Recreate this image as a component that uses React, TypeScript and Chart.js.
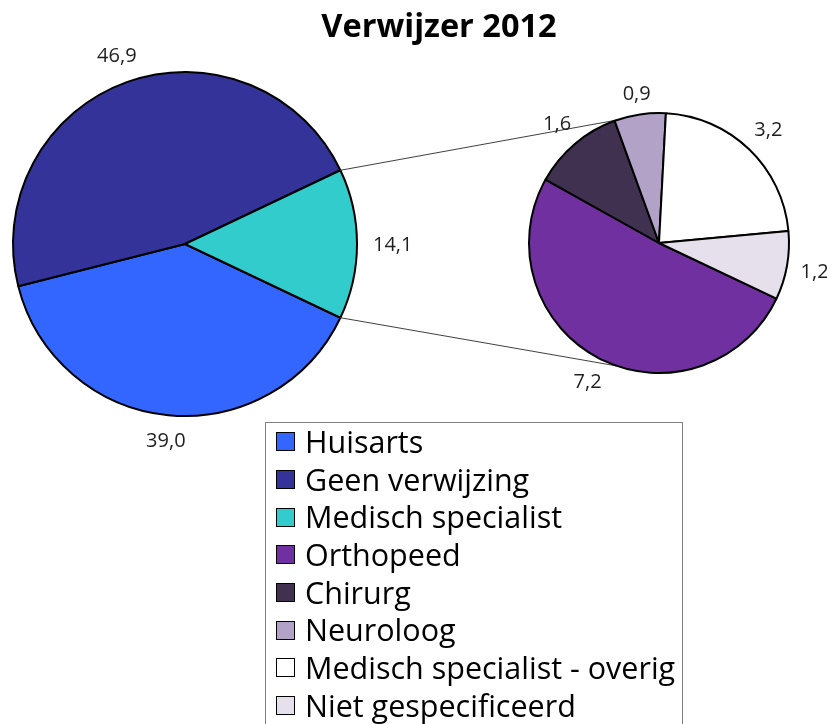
import React, { useEffect, useRef } from "react";
import { Chart, registerables } from "chart.js";

Chart.register(...registerables);

const TITLE = "Verwijzer 2012";

const mainLabels = ["Huisarts", "Geen verwijzing", "Medisch specialist"];
const mainValues = [39.0, 46.9, 14.1];
const mainColors = ["#3366FF", "#333399", "#33CCCC"];

const subLabels = [
  "Orthopeed",
  "Chirurg",
  "Neuroloog",
  "Medisch specialist - overig",
  "Niet gespecificeerd",
];
const subValues = [7.2, 1.6, 0.9, 3.2, 1.2];
const subColors = ["#7030A0", "#403151", "#B3A2C7", "#FFFFFF", "#E6E0EC"];

const SPLIT_INDEX = 2; // main slice broken out into the second pie

const W = 827;
const H = 724;
const LABEL_FONT = '20px "Open Sans"';
const FONT_FAMILY = '"Open Sans", "Noto Sans", sans-serif';

const fmt = (v: number) => v.toFixed(1).replace(".", ",");

const total = mainValues.reduce((a, b) => a + b, 0);
// rotate so that the split slice is centred on the right side (3 o'clock)
const ROTATION = 90 + ((mainValues[SPLIT_INDEX] / total) * 360) / 2;

function makeValueLabelPlugin(gap: number) {
  return {
    id: "valueLabels",
    afterDatasetsDraw(chart: any) {
      const ctx = chart.ctx;
      const meta = chart.getDatasetMeta(0);
      const data = chart.data.datasets[0].data as number[];
      ctx.save();
      ctx.font = LABEL_FONT;
      ctx.fillStyle = "#1f1f1f";
      ctx.textAlign = "center";
      ctx.textBaseline = "alphabetic";
      const capH = 14;
      meta.data.forEach((arc: any, i: number) => {
        const { x, y, startAngle, endAngle, outerRadius } = arc.getProps(
          ["x", "y", "startAngle", "endAngle", "outerRadius"],
          true
        );
        const mid = (startAngle + endAngle) / 2;
        const text = fmt(data[i]);
        const w = ctx.measureText(text).width;
        const c = Math.cos(mid);
        const s = Math.sin(mid);
        const d = outerRadius + gap + (Math.abs(c) * w) / 2 + (Math.abs(s) * capH) / 2;
        ctx.fillText(text, x + c * d, y + s * d + capH / 2);
      });
      ctx.restore();
    },
  };
}

export default function App() {
  const mainRef = useRef<HTMLCanvasElement>(null);
  const subRef = useRef<HTMLCanvasElement>(null);

  useEffect(() => {
    if (!mainRef.current || !subRef.current) return;

    const mainChart = new Chart(mainRef.current, {
      type: "pie",
      data: {
        labels: mainLabels,
        datasets: [
          {
            data: mainValues,
            backgroundColor: mainColors,
            borderColor: "#000",
            borderWidth: 2,
            hoverOffset: 0,
            radius: 172,
          } as any,
        ],
      },
      options: {
        responsive: false,
        animation: false,
        rotation: ROTATION,
        layout: { padding: { left: 0, top: 59, right: W - 370, bottom: H - 429 } },
        plugins: { legend: { display: false }, title: { display: false }, tooltip: { enabled: false } },
        events: [],
      } as any,
      plugins: [makeValueLabelPlugin(16)],
    });

    const connectorPlugin = {
      id: "connectors",
      beforeDatasetsDraw(chart: any) {
        const arc = mainChart.getDatasetMeta(0).data[SPLIT_INDEX] as any;
        if (!arc) return;
        const m = arc.getProps(["x", "y", "startAngle", "endAngle", "outerRadius"], true);
        const sub = chart.getDatasetMeta(0).data[0] as any;
        const sp = sub.getProps(["x", "y", "outerRadius"], true);
        const subAngleTop = (251 * Math.PI) / 180;
        const subAngleBottom = (109 * Math.PI) / 180;
        const ctx = chart.ctx;
        ctx.save();
        ctx.strokeStyle = "#404040";
        ctx.lineWidth = 1;
        ctx.beginPath();
        ctx.moveTo(m.x + m.outerRadius * Math.cos(m.startAngle), m.y + m.outerRadius * Math.sin(m.startAngle));
        ctx.lineTo(sp.x + sp.outerRadius * Math.cos(subAngleTop), sp.y + sp.outerRadius * Math.sin(subAngleTop));
        ctx.moveTo(m.x + m.outerRadius * Math.cos(m.endAngle), m.y + m.outerRadius * Math.sin(m.endAngle));
        ctx.lineTo(sp.x + sp.outerRadius * Math.cos(subAngleBottom), sp.y + sp.outerRadius * Math.sin(subAngleBottom));
        ctx.stroke();
        ctx.restore();
      },
    };

    const subChart = new Chart(subRef.current, {
      type: "pie",
      data: {
        labels: subLabels,
        datasets: [
          {
            data: subValues,
            backgroundColor: subColors,
            borderColor: "#000",
            borderWidth: 2,
            hoverOffset: 0,
            radius: 130,
          } as any,
        ],
      },
      options: {
        responsive: false,
        animation: false,
        rotation: ROTATION,
        layout: { padding: { left: 519, top: 103, right: W - 799, bottom: H - 383 } },
        plugins: { legend: { display: false }, title: { display: false }, tooltip: { enabled: false } },
        events: [],
      } as any,
      plugins: [connectorPlugin, makeValueLabelPlugin(13)],
    });

    return () => {
      subChart.destroy();
      mainChart.destroy();
    };
  }, []);

  const legendItems = [
    ...mainLabels.map((l, i) => ({ label: l, color: mainColors[i] })),
    ...subLabels.map((l, i) => ({ label: l, color: subColors[i] })),
  ];

  return (
    <div
      style={{
        position: "absolute",
        left: 0,
        top: 0,
        width: W,
        height: H,
        overflow: "hidden",
        background: "#fff",
      }}
    >
      <canvas ref={mainRef} width={W} height={H} style={{ position: "absolute", left: 0, top: 0 }} />
      <canvas ref={subRef} width={W} height={H} style={{ position: "absolute", left: 0, top: 0 }} />
      <div
        style={{
          position: "absolute",
          left: 139,
          top: 9,
          width: 600,
          textAlign: "center",
          fontFamily: FONT_FAMILY,
          fontWeight: 700,
          fontSize: 32.5,
          lineHeight: "32px",
          color: "#000",
        }}
      >
        {TITLE}
      </div>
      <div
        style={{
          position: "absolute",
          left: 265,
          top: 422,
          width: 418,
          height: 340,
          border: "1px solid #7f7f7f",
          boxSizing: "border-box",
          background: "#fff",
        }}
      >
        {legendItems.map((it) => (
          <div
            key={it.label}
            style={{
              height: 37.69,
              display: "flex",
              alignItems: "center",
              paddingLeft: 10,
            }}
          >
            <span
              style={{
                display: "inline-block",
                width: 19,
                height: 19,
                border: "1.5px solid #000",
                boxSizing: "border-box",
                background: it.color,
                marginRight: 10,
                flex: "none",
              }}
            />
            <span
              style={{
                fontFamily: FONT_FAMILY,
                fontSize: 30.5,
                lineHeight: "37.69px",
                color: "#000",
                whiteSpace: "nowrap",
              }}
            >
              {it.label}
            </span>
          </div>
        ))}
      </div>
    </div>
  );
}
